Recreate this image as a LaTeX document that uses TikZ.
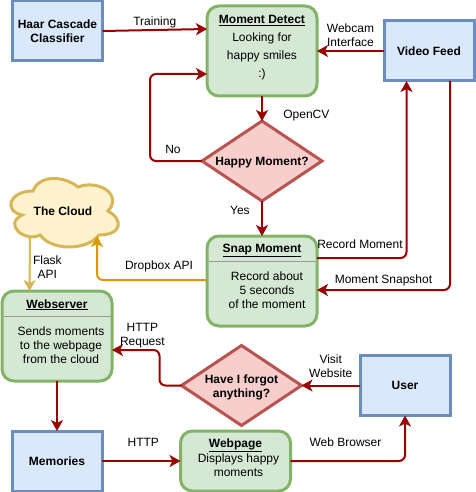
\documentclass[tikz,border=0pt]{standalone}
\usepackage{xcolor}
\usepackage{fontspec}
\setmainfont{Liberation Sans}
\usepackage{tikz}
\usetikzlibrary{shapes.geometric, arrows.meta, positioning, calc}
\definecolor{blueFill}{HTML}{DAE8FC}
\definecolor{blueLine}{HTML}{6C8EBF}
\definecolor{greenFill}{HTML}{D5E8D4}
\definecolor{greenLine}{HTML}{82B366}
\definecolor{redFill}{HTML}{F8CECC}
\definecolor{redLine}{HTML}{B85450}
\definecolor{cloudFill}{HTML}{FFF2CC}
\definecolor{cloudLine}{HTML}{D6B656}
\definecolor{flowRed}{HTML}{990000}
\definecolor{flowGold}{HTML}{D79B00}

\begin{document}
\begin{tikzpicture}[
    x=1pt, y=1pt,
    every node/.style={font=\fontsize{12}{14}\selectfont, align=center, outer sep=0pt},
    block/.style={rectangle, draw=blueLine, line width=3pt, fill=blueFill, minimum width=90pt, minimum height=60pt, font=\fontsize{12}{14}\selectfont\bfseries},
    panel/.style={rectangle, rounded corners=12pt, draw=greenLine, line width=3pt, fill=greenFill, minimum width=110pt, minimum height=90pt},
    decision/.style={diamond, draw=redLine, line width=3pt, fill=redFill, minimum width=120pt, minimum height=80pt, inner sep=0pt},
    bold/.style={font=\fontsize{12}{14}\selectfont\bfseries},
    divider/.style={draw=black!40, line width=0.7pt},
    flow/.style={-{Stealth[length=11pt, width=12pt, inset=3pt]}, draw=flowRed, line width=2pt, rounded corners=6pt},
    goldflow/.style={flow, draw=flowGold},
    tanflow/.style={flow, draw=cloudLine}
]
\useasboundingbox (0,0) rectangle (475,-492);

\node[block] (haar) at (57.5,-31) {Haar Cascade\\Classifier};
\node[panel, right=104.5pt of haar, yshift=-20pt] (detect) {};
\node[block, right=67pt of detect] (feed) {Video Feed};
\node[decision, below=25pt of detect] (happy) {};
\node[panel, below=35pt of happy] (snap) {};
\node[panel, left=95pt of snap, yshift=-55pt] (webserver) {};
\node[block, below=50pt of webserver] (memories) {Memories};
\node[panel, minimum height=60pt, right=78.5pt of memories] (webpage) {};
\node[block, right=69.5pt of webpage, yshift=75.5pt] (user) {User};
\node[decision, left=58.5pt of user] (forgot) {};
\node[minimum width=120pt, minimum height=80pt, above=40pt of webserver, xshift=6pt] (thecloud) {};

\begin{scope}[shift={(thecloud.north west)}, x=120pt, y=-80pt]
\draw[draw=cloudLine, line width=3pt, fill=cloudFill] (.25,.25) .. controls (.05,.25) and (0,.5) .. (.16,.55)
    .. controls (0,.66) and (.18,.9) .. (.31,.8) .. controls (.4,1) and (.7,1) .. (.8,.8)
    .. controls (1,.8) and (1,.6) .. (.875,.5) .. controls (1,.3) and (.8,.1) .. (.625,.2)
    .. controls (.5,.05) and (.3,.05) .. cycle;
\end{scope}

\node[font=\fontsize{12}{18}\selectfont, yshift=3pt] (detectText) at (detect.center) {\underline{\textbf{Moment Detect}}\\Looking for\\happy smiles\\:)};
\node[bold, yshift=-2pt] (happyText) at (happy) {Happy Moment?};
\node[bold, yshift=-2pt] (forgotText) at (forgot) {Have I forgot\\anything?};
\node[bold] (cloudText) at (thecloud) {The Cloud};

\node[below=5pt of snap.north] (snapTitle) {\underline{\textbf{Snap Moment}}};
\node[below=32pt of snap.north, xshift=5pt] (snapText) {Record about\\5 seconds\\of the moment};
\draw[divider] ([yshift=-25pt,xshift=2pt]snap.north west) -- ([yshift=-25pt,xshift=-1pt]snap.north east);

\node[below=5pt of webserver.north] (webserverTitle) {\underline{\textbf{Webserver}}};
\node[below=32pt of webserver.north, xshift=4pt] (webserverText) {Sends moments\\to the webpage\\from the cloud};
\draw[divider] ([yshift=-25pt,xshift=2pt]webserver.north west) -- ([yshift=-25pt,xshift=-1pt]webserver.north east);

\node[below=4pt of webpage.north] (webpageTitle) {\underline{\textbf{Webpage}}};
\node[below=-4pt of webpageTitle, xshift=3pt] (webpageText) {Displays happy\\moments};

\draw[flow] (haar.east) -- node[above=-1pt] (trainingLabel) {Training} ([yshift=22pt]detect.west);
\draw[flow] (feed.west) -- node[above=1pt] (webcamLabel) {Webcam\\Interface} (detect.east);
\draw[flow] (detect.south) -- node[right=18pt, yshift=-7pt] (opencvLabel) {OpenCV} (happy.north);
\draw[flow] (happy.south) -- node[left=9pt, yshift=8pt] (yesLabel) {Yes} (snap.north);
\draw[flow] (happy.west) -- node[above=4pt, xshift=-3pt] (noLabel) {No} ++(-52,0) |- ([yshift=-23pt]detect.west);
\draw[flow] ([yshift=23pt]snap.east) -| node[pos=.24, above=6pt] (recordLabel) {Record Moment} ([xshift=-22.5pt]feed.south);
\draw[flow] ([xshift=21pt]feed.south) |- node[pos=.75, above=1pt] (snapshotLabel) {Moment Snapshot} ([yshift=-9pt]snap.east);
\draw[goldflow] ([yshift=1pt]snap.west) -| node[pos=.218, above=5pt] (dropboxLabel) {Dropbox API} ([xshift=34pt,yshift=15pt]thecloud.south);
\draw[tanflow] ([xshift=-33pt,yshift=14pt]thecloud.south) -- node[pos=.55, right=0pt] (flaskLabel) {Flask\\API} ([xshift=-27.5pt]webserver.north);
\draw[flow] (forgot.west) -- ++(-22,0) |- node[pos=.68, above=-1pt] (requestLabel) {HTTP\\Request} ([yshift=-14pt]webserver.east);
\draw[flow] (user.west) -- node[above=5pt] (visitLabel) {Visit\\Website} (forgot.east);
\draw[flow] (webserver.south) -- (memories.north);
\draw[flow] (memories.east) -- node[above=11pt, xshift=2pt] (httpLabel) {HTTP} (webpage.west);
\draw[flow] (webpage.east) -| node[pos=.24, above=11pt] (browserLabel) {Web Browser} (user.south);
\end{tikzpicture}
\end{document}
